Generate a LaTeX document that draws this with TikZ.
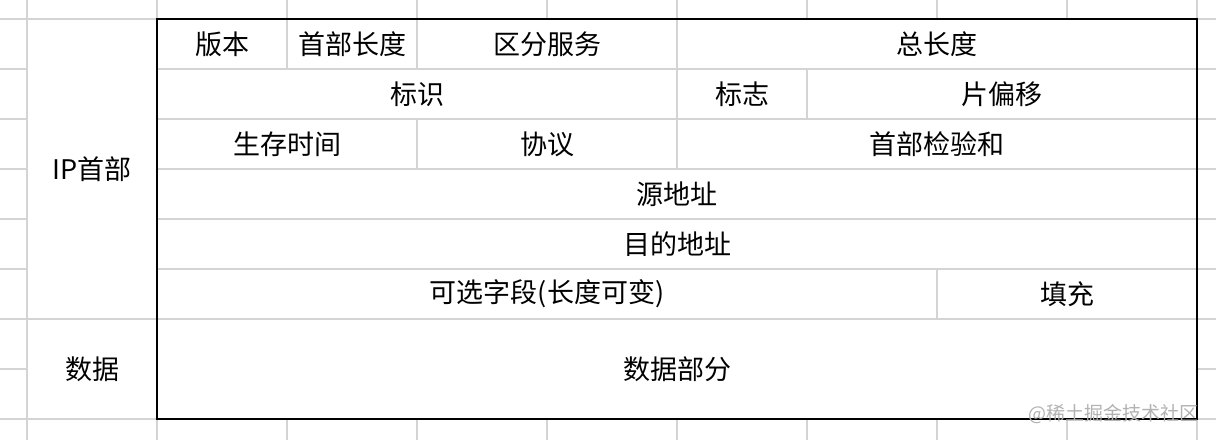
\documentclass[tikz,border=0pt]{standalone}
\usepackage{fontspec}
\setmainfont{Noto Sans CJK SC}
\definecolor{gridgray}{HTML}{D4D4D4}
\tikzset{
    gridline/.style = {draw = gridgray, line width = 1.5pt},
    boxline/.style = {draw = black, line width = 2pt},
    cell/.style = {font = \fontsize{27}{31}\selectfont, inner sep = 0pt},
}
\begin{document}
\begin{tikzpicture}[x = 1pt, y = -1pt]
                \useasboundingbox[fill = white] (0,0) rectangle (1216,440);

                % sheet grid around the table
                \foreach \x in {157,287,417,547,677,807,937,1067,1197} {
                    \draw[gridline] (\x,0) -- (\x,19);
                    \draw[gridline] (\x,419) -- (\x,440);
                }
                \foreach \y in {19,69,119,169,219,269,319,369,419} {
                    \draw[gridline] (0,\y) -- (27,\y);
                    \draw[gridline] (1197,\y) -- (1216,\y);
                }
                \draw[gridline] (27,0) -- (27,440);
                \draw[gridline] (27,19) -- (157,19);
                \draw[gridline] (27,319) -- (157,319);
                \draw[gridline] (27,419) -- (157,419);

                % inner lines of the header
                \foreach \y in {69,119,169,219,269,319} {
                    \draw[gridline] (157,\y) -- (1197,\y);
                }
                \draw[gridline] (287,19) -- (287,69);
                \draw[gridline] (417,19) -- (417,69);
                \draw[gridline] (677,19) -- (677,69);
                \draw[gridline] (677,69) -- (677,119);
                \draw[gridline] (807,69) -- (807,119);
                \draw[gridline] (417,119) -- (417,169);
                \draw[gridline] (677,119) -- (677,169);
                \draw[gridline] (937,269) -- (937,319);

                \coordinate (TL) at (157,19);
                \coordinate (BR) at (1197,419);
                \draw[boxline] (TL) rectangle (BR);

                \node[cell] (iphdr) at (92,169) {IP首部};
                \node[cell] (data) at (92,369) {数据};

                \node[cell] (version) at (222,44) {版本};
                \node[cell] (hlen) at (352,44) {首部长度};
                \node[cell] (tos) at (547,44) {区分服务};
                \node[cell] (totlen) at (937,44) {总长度};

                \node[cell] (ident) at (417,94) {标识};
                \node[cell] (flags) at (742,94) {标志};
                \node[cell] (fragoff) at (1002,94) {片偏移};

                \node[cell] (ttl) at (287,144) {生存时间};
                \node[cell] (proto) at (547,144) {协议};
                \node[cell] (chksum) at (937,144) {首部检验和};

                \node[cell] (src) at (677,194) {源地址};
                \node[cell] (dst) at (677,244) {目的地址};

                \node[cell] (opts) at (547,294) {可选字段(长度可变)};
                \node[cell] (pad) at (1067,294) {填充};

                \node[cell] (payload) at (677,369) {数据部分};

                \node[font = \fontsize{19}{22}\selectfont, text = gray!60, inner sep = 0pt, anchor = east] (mark) at (1199,414) {@稀土掘金技术社区};
\end{tikzpicture}
\end{document}
